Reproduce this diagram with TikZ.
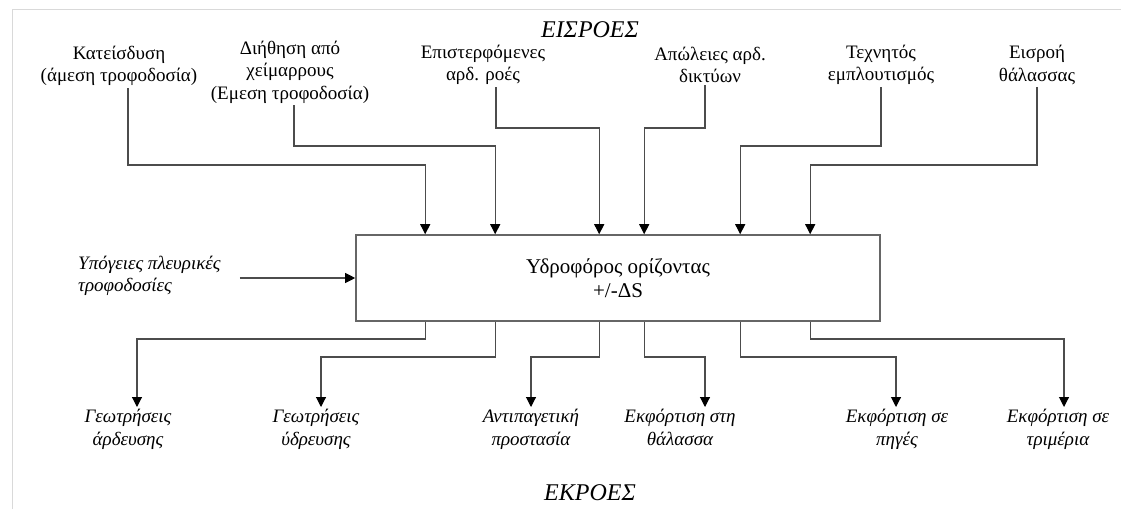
\documentclass[tikz,border=0pt]{standalone}
\usepackage{fontspec}
\setmainfont{Liberation Serif}
\usetikzlibrary{positioning, arrows.meta}

\begin{document}
\begin{tikzpicture}[x=1pt, y=-1pt,
    lbl/.style={align=center, font=\fontsize{19}{22.5}\selectfont, inner sep=2pt},
    outlbl/.style={lbl, font=\fontsize{19}{22.5}\selectfont\itshape},
    flow/.style={draw=black!70, line width=1.1pt, -{Triangle[width=10pt, length=10pt, black]}},
    title/.style={font=\fontsize{24}{28}\selectfont\itshape}]

    \useasboundingbox (0,0) rectangle (1121,509);
    \draw[black!15, line width=1pt] (12,509) -- (12,9) -- (1121,9);

    \node[draw=black!60, line width=1.6pt, minimum width=524pt, minimum height=86pt,
          align=center, font=\fontsize{21}{24}\selectfont] (box) at (618,278)
          {Υδροφόρος ορίζοντας\\+/-ΔS};

    \foreach \n/\dx in {1/70, 2/140, 3/244, 4/289, 5/385, 6/455} {
        \coordinate (t\n) at ([xshift=\dx pt]box.north west);
        \coordinate (b\n) at ([xshift=\dx pt]box.south west);
    }
    \coordinate (lv1) at (0,128);
    \coordinate (lv2) at (0,146);
    \coordinate (lv3) at (0,165);
    \coordinate (lvb1) at (0,339);
    \coordinate (lvb2) at (0,357);

    \node[title] (inp) at (590,30) {ΕΙΣΡΟΕΣ};
    \node[title, anchor=base] (outp) at (590,500) {ΕΚΡΟΕΣ};

    \node[lbl] (kat) at (119,66) {Κατείσδυση\\(άμεση τροφοδοσία)};
    \node[lbl] (dih) at (290,72) {Διήθηση από\\χείμαρρους\\(Εμεση τροφοδοσία)};
    \node[lbl] (epi) at (483,65) {Επιστερφόμενες\\αρδ. ροές};
    \node[lbl] (apo) at (710,65) {Απώλειες αρδ.\\δικτύων};
    \node[lbl] (tex) at (881,65) {Τεχνητός\\εμπλουτισμός};
    \node[lbl] (eis) at (1037,65) {Εισροή\\θάλασσας};

    \draw[flow] ([xshift=9pt]kat.south) |- (lv3 -| t1) -- (t1);
    \draw[flow] ([xshift=4pt]dih.south) |- (lv2 -| t2) -- (t2);
    \draw[flow] ([xshift=13pt]epi.south) |- (lv1 -| t3) -- (t3);
    \draw[flow] ([xshift=-5pt]apo.south) |- (lv1 -| t4) -- (t4);
    \draw[flow] (tex.south) |- (lv2 -| t5) -- (t5);
    \draw[flow] (eis.south) |- (lv3 -| t6) -- (t6);

    \node[outlbl, align=left, anchor=west] (lat) at (76,276) {Υπόγειες πλευρικές\\τροφοδοσίες};
    \draw[flow] ([xshift=17pt]lat.east |- box.west) -- (box.west);

    \node[outlbl, anchor=north] (o1) at (128,407) {Γεωτρήσεις\\άρδευσης};
    \node[outlbl, anchor=north] (o2) at (316,407) {Γεωτρήσεις\\ύδρευσης};
    \node[outlbl, anchor=north] (o3) at (531,407) {Αντιπαγετική\\προστασία};
    \node[outlbl, anchor=north] (o4) at (680,407) {Εκφόρτιση στη\\θάλασσα};
    \node[outlbl, anchor=north] (o5) at (897,407) {Εκφόρτιση σε\\πηγές};
    \node[outlbl, anchor=north] (o6) at (1058,407) {Εκφόρτιση σε\\τριμέρια};

    \draw[flow] (b1) -- (b1 |- lvb1) -| ([xshift=9pt]o1.north);
    \draw[flow] (b2) -- (b2 |- lvb2) -| ([xshift=5pt]o2.north);
    \draw[flow] (b3) -- (b3 |- lvb2) -| (o3.north);
    \draw[flow] (b4) -- (b4 |- lvb2) -| ([xshift=25pt]o4.north);
    \draw[flow] (b5) -- (b5 |- lvb2) -| ([xshift=-1pt]o5.north);
    \draw[flow] (b6) -- (b6 |- lvb1) -| ([xshift=6pt]o6.north);
\end{tikzpicture}
\end{document}
